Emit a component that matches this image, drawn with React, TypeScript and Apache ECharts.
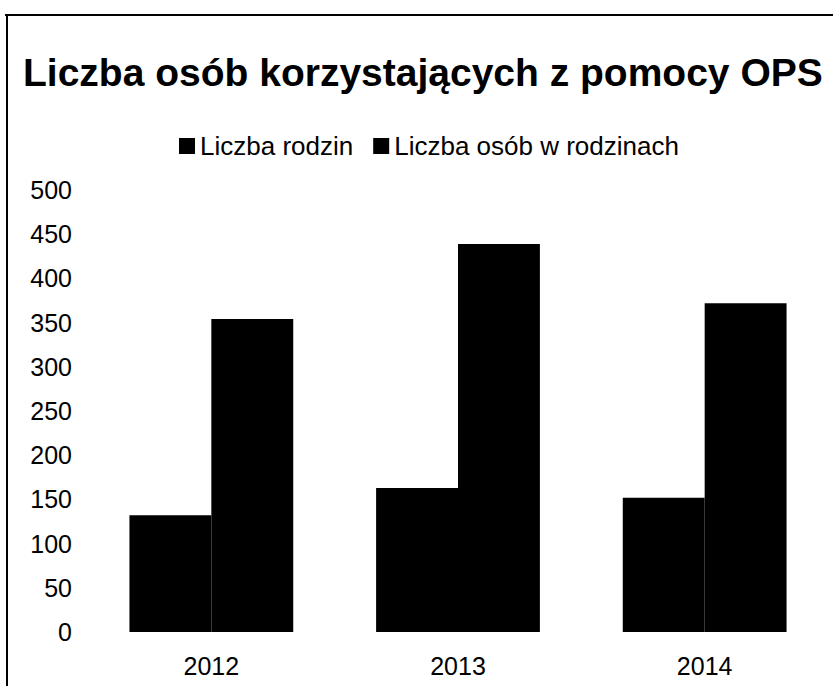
import React, { useEffect, useRef } from "react";
import * as echarts from "echarts";

const categories = ["2012", "2013", "2014"];
const rodziny = [132, 163, 152];
const osoby = [354, 439, 372];
const seriesNames = ["Liczba rodzin", "Liczba osób w rodzinach"];

export default function App() {
  const ref = useRef<HTMLDivElement>(null);
  useEffect(() => {
    const chart = echarts.init(ref.current!, null, { renderer: "svg" });
    const font = "'Liberation Sans', Arial, sans-serif";
    chart.setOption({
      animation: false,
      backgroundColor: "#ffffff",
      title: {
        text: "Liczba osób korzystających z pomocy OPS",
        left: 18,
        top: 48,
        textStyle: { fontFamily: font, fontSize: 39, fontWeight: "bold", color: "#000" },
      },
      legend: {
        top: 128,
        left: 174,
        itemWidth: 16,
        itemHeight: 16,
        itemGap: 20,
        icon: "rect",
        textStyle: { fontFamily: font, fontSize: 26, color: "#000" },
        data: seriesNames,
      },
      grid: { left: 88, right: 5, top: 190, bottom: 54 },
      xAxis: {
        type: "category",
        data: categories,
        axisLine: { show: false },
        axisTick: { show: false },
        axisLabel: { fontFamily: font, fontSize: 25, color: "#000", margin: 21 },
      },
      yAxis: {
        type: "value",
        min: 0,
        max: 500,
        interval: 50,
        splitLine: { show: false },
        axisLine: { show: false },
        axisTick: { show: false },
        axisLabel: { fontFamily: font, fontSize: 25, color: "#000", margin: 16 },
      },
      graphic: [
        { type: "line", shape: { x1: 5, y1: 15, x2: 833, y2: 15 }, style: { stroke: "#000", lineWidth: 2 } },
        { type: "line", shape: { x1: 7, y1: 15, x2: 7, y2: 686 }, style: { stroke: "#000", lineWidth: 2 } },
      ],
      series: [
        {
          name: seriesNames[0],
          type: "bar",
          data: rodziny,
          barGap: "0%",
          barCategoryGap: "33.6%",
          itemStyle: { color: "#000" },
        },
        {
          name: seriesNames[1],
          type: "bar",
          data: osoby,
          barGap: "0%",
          barCategoryGap: "33.6%",
          itemStyle: { color: "#000" },
        },
      ],
    });
    return () => chart.dispose();
  }, []);
  return <div ref={ref} style={{ width: 833, height: 686, position: "absolute", left: 0, top: 0 }} />;
}
